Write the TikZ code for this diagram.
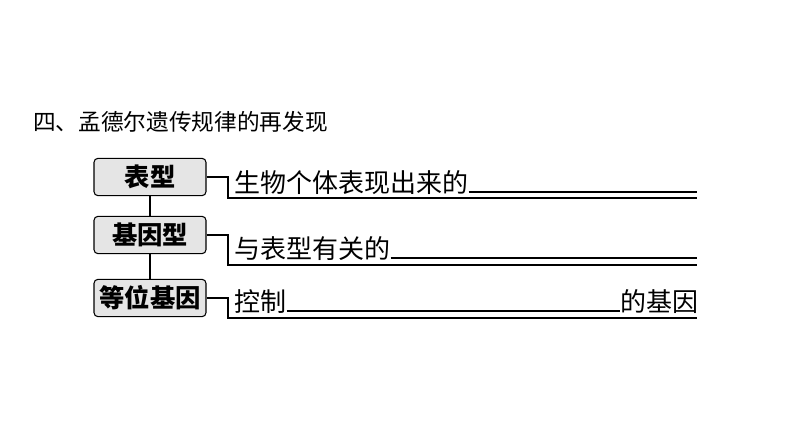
\documentclass[tikz,border=0pt]{standalone}
\usepackage{fontspec}
\newfontfamily\cjk{Noto Sans CJK SC}
\usetikzlibrary{positioning}
\tikzset{
  term/.style={draw, thick, rounded corners=3pt, fill=gray!20, minimum width=84pt, minimum height=28pt, font=\cjk\fontsize{19}{19}\selectfont\bfseries, inner sep=0pt},
  bracket/.style={thick},
  txt/.style={font=\cjk\fontsize{19.5}{19.5}\selectfont, anchor=base west, inner sep=0pt},
  blank/.style={thick}
}
\begin{document}
\begin{tikzpicture}[x=0.75pt,y=-0.75pt]
\useasboundingbox[fill=white] (0,0) rectangle (794,447);
\node[font=\cjk\fontsize{17}{17}\selectfont, anchor=west, inner sep=0pt] (title) at (33,122) {四、孟德尔遗传规律的再发现};
% left column
\node[term] (bx) at (150,177) {表型};
\node[term] (jy) at (150,235) {基因型};
\node[term] (dw) at (150,298) {等位基因};
\draw[thick] (bx) -- (jy) (jy) -- (dw);
% right column
\node[txt] (t1) at (234,192) {生物个体表现出来的};
\node[txt] (t2) at (234,258) {与表型有关的};
\node[txt] (t3) at (234,311) {控制};
\node[txt] (t3b) at (620,311) {的基因};
\coordinate (e1) at (697,198);
\coordinate (e2) at (697,265);
\coordinate (e3) at (697,318);
\draw[bracket] (bx.east) -| (228,198) -- (e1);
\draw[bracket] (jy.east) -| (228,265) -- (e2);
\draw[bracket] (dw.east) -| (228,318) -- (e3);
% blanks
\draw[blank] (t1.base east) -- (697,192);
\draw[blank] (t2.base east) -- (697,258);
\draw[blank] (t3.base east) -- (t3b.base west);
\end{tikzpicture}
\end{document}
